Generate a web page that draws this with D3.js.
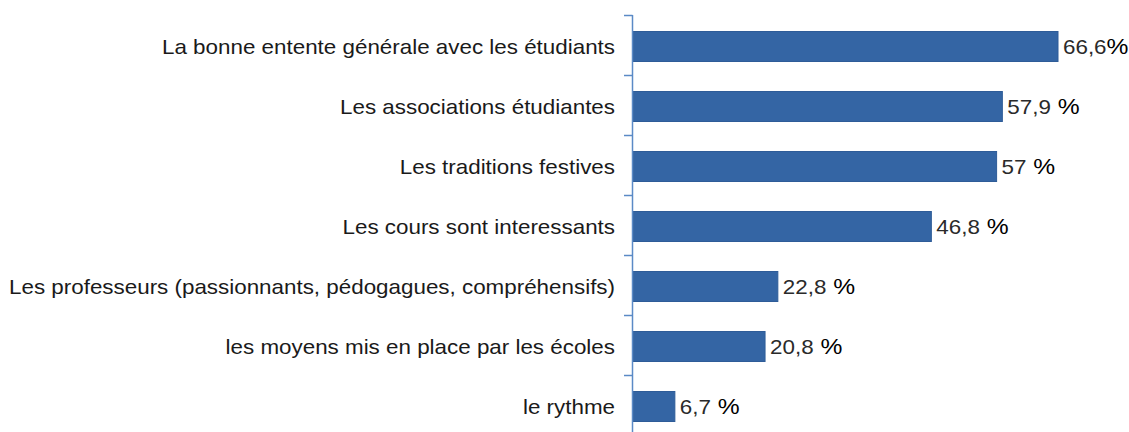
<!DOCTYPE html>
<html><head><meta charset="utf-8">
<script src="https://cdn.jsdelivr.net/npm/d3@7"></script>
<style>body{margin:0;background:#fff}svg{display:block}</style>
</head><body>
<svg id="c" width="1129" height="432"></svg>
<script>
const categories = [
  "La bonne entente générale avec les étudiants",
  "Les associations étudiantes",
  "Les traditions festives",
  "Les cours sont interessants",
  "Les professeurs (passionnants, pédogagues, compréhensifs)",
  "les moyens mis en place par les écoles",
  "le rythme"
];
const values = [66.6, 57.9, 57, 46.8, 22.8, 20.8, 6.7];
const numberLabels = ["66,6", "57,9", "57", "46,8", "22,8", "20,8", "6,7"];
const percentLabels = ["%", " %", " %", " %", " %", " %", " %"];

(function () {
const svg = d3.select("#c");
const x0 = 632, plotTop = 15, bandH = 60, sx = 1.12;
const x = d3.scaleLinear().domain([0, 66.6]).range([x0, 1058]);
const y = d3.scaleBand().domain(categories).range([plotTop, plotTop + bandH * categories.length]).paddingInner(0.5).paddingOuter(0.25);

svg.selectAll("rect.bar").data(values).enter().append("rect")
  .attr("x", x(0) + 1)
  .attr("y", (d, i) => y(categories[i]) + 1.5)
  .attr("width", d => x(d) - x(0) - 1)
  .attr("height", y.bandwidth())
  .attr("fill", "#3465a4")
  .attr("stroke", "#2e5c98")
  .attr("stroke-width", 1);

const g = svg.append("g");
g.append("line").attr("x1", x0 + 0.5).attr("x2", x0 + 0.5).attr("y1", plotTop).attr("y2", 432)
  .attr("stroke", "#5b8ac6").attr("stroke-width", 1.5);
const tickYs = d3.range(categories.length + 1).map(i => plotTop + i * bandH);
g.selectAll("line.tick").data(tickYs).enter().append("line")
  .attr("x1", x0 - 8).attr("x2", x0 + 0.5).attr("y1", d => d + 0.5).attr("y2", d => d + 0.5)
  .attr("stroke", "#5b8ac6").attr("stroke-width", 1.5);

svg.selectAll("text.cat").data(categories).enter().append("text")
  .attr("transform", d => `translate(615,${y(d) + y.bandwidth() / 2 + 9}) scale(${sx},1)`)
  .attr("text-anchor", "end")
  .attr("font-family", "Liberation Sans, Arial, sans-serif")
  .attr("font-size", 20)
  .attr("fill", "#1a1a1a")
  .text(d => d);

const vl = svg.selectAll("text.val").data(values).enter().append("text")
  .attr("transform", (d, i) => `translate(${x(d) + 5},${y(categories[i]) + y.bandwidth() / 2 + 9}) scale(${sx},1)`)
  .attr("font-family", "Liberation Sans, Arial, sans-serif")
  .style("white-space", "pre");
vl.append("tspan").attr("font-size", 20).attr("fill", "#2a2a2a").text((d, i) => numberLabels[i]);
vl.append("tspan").attr("font-size", 22).attr("fill", "#000").text((d, i) => percentLabels[i]);
})();
</script>
</body></html>
